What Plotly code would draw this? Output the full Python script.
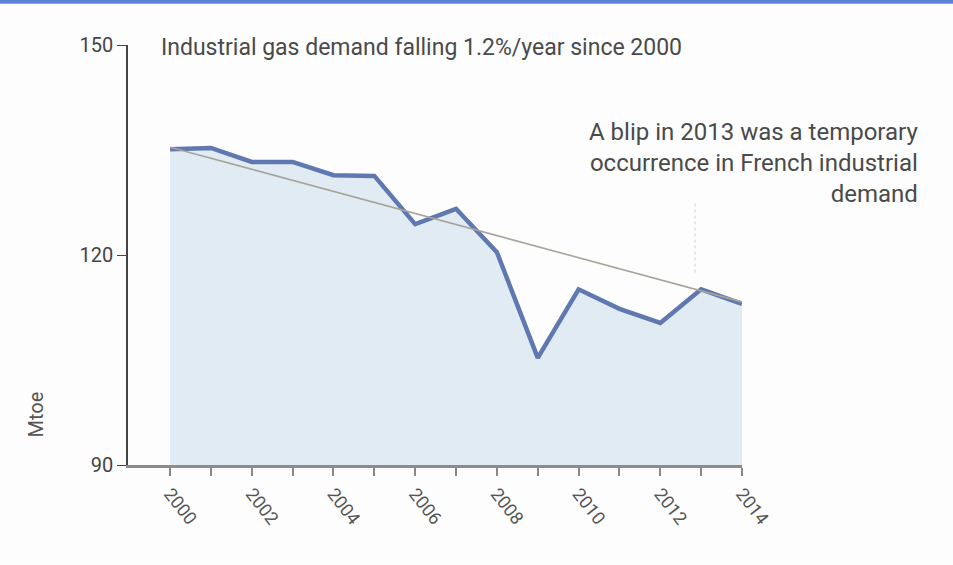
import plotly.graph_objects as go

years = list(range(2000, 2015))
demand = [135.1, 135.3, 133.3, 133.3, 131.4, 131.3, 124.4, 126.6, 120.4, 105.3, 115.1, 112.3, 110.3, 115.1, 113.0]
trend_years = [2000, 2014]
trend_values = [135.4, 113.3]
tick_labels = [str(y) if y % 2 == 0 else "" for y in years]

FONT = "Liberation Sans Narrow, Roboto, Arial Narrow, sans-serif"

fig = go.Figure()
fig.add_trace(go.Scatter(x=years, y=demand, mode="lines", fill="tozeroy",
                         fillcolor="rgba(214,228,240,0.75)",
                         line=dict(color="#6078b0", width=4.5), hoverinfo="skip"))
fig.add_trace(go.Scatter(x=trend_years, y=trend_values, mode="lines",
                         line=dict(color="#a8a49a", width=1.6), hoverinfo="skip"))

fig.update_layout(
    width=953, height=565,
    margin=dict(l=128, r=211, t=45, b=100),
    paper_bgcolor="#fdfdfe", plot_bgcolor="rgba(0,0,0,0)",
    showlegend=False,
    font=dict(family=FONT, color="#4a4a4a", size=18),
    xaxis=dict(range=[1998.97, 2014], tickvals=years, ticktext=tick_labels,
               tickangle=52, ticks="outside", ticklen=8, tickcolor="#888",
               tickwidth=1.5, showline=True, linecolor="#8c8c8c", linewidth=3,
               showgrid=False, zeroline=False, tickfont=dict(size=18, color="#555")),
    yaxis=dict(range=[90, 150], tickvals=[90, 120, 150], ticks="outside", ticklen=9,
               tickcolor="#444", showline=True, linecolor="#444", linewidth=1.5,
               showgrid=False, zeroline=False, tickfont=dict(size=20, color="#444")),
    shapes=[
        dict(type="rect", xref="paper", yref="paper", x0=-0.3, x1=1.5, y0=1.098, y1=1.12,
             fillcolor="#5b82d6", line=dict(width=0)),
        dict(type="line", xref="x", yref="y", x0=2012.85, x1=2012.85, y0=117.5, y1=127.5,
             line=dict(color="#d0d0d0", width=1, dash="dot")),
    ],
    annotations=[
        dict(text="Industrial gas demand falling 1.2%/year since 2000", xref="paper", yref="paper",
             x=0.05, y=0.993, xanchor="left", yanchor="middle", showarrow=False,
             font=dict(size=23, color="#4a4a4a")),
        dict(text="A blip in 2013 was a temporary<br>occurrence in French industrial<br>demand",
             xref="paper", yref="paper", x=1.29, y=0.83, xanchor="right", yanchor="top",
             align="right", showarrow=False, font=dict(size=24, color="#4a4a4a")),
        dict(text="Mtoe", xref="paper", yref="paper", x=-0.15, y=0.12, textangle=-90,
             xanchor="center", yanchor="middle", showarrow=False,
             font=dict(size=20, color="#555")),
    ],
)

fig.write_html("out.html", config={"displayModeBar": False},
               post_script="document.body.style.margin='0';document.body.style.overflow='hidden';")
